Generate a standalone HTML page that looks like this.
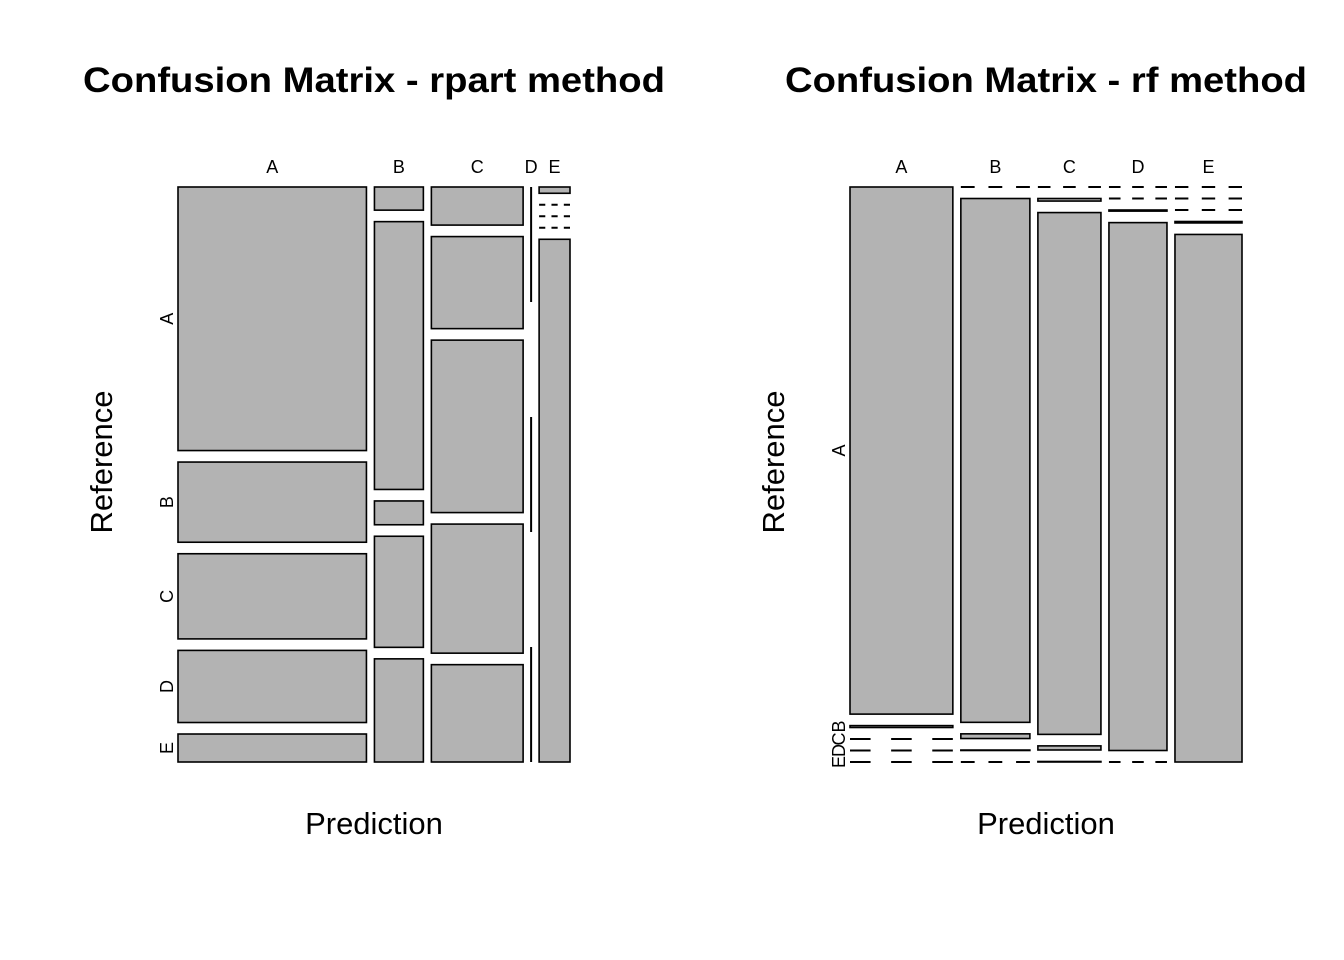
<!DOCTYPE html>
<html><head><meta charset="utf-8"><style>
html,body{margin:0;padding:0;background:#fff;}
svg{display:block;font-family:"Liberation Sans",Arial,sans-serif;}
</style></head><body>
<svg id="chart" width="1344" height="960" viewBox="0 0 1344 960" xmlns="http://www.w3.org/2000/svg">
<rect x="0" y="0" width="1344" height="960" fill="#fff"/>
<g id="p1"></g>
<g id="p2"></g>
</svg>
<script>
// Categories
const predLevels = ["A","B","C","D","E"];
const refLevels = ["A","B","C","D","E"];
// rpart counts per Prediction column (Reference A..E)
const rpartPredA = [1535, 467, 496, 420, 163];
const rpartPredB = [35, 405, 36, 168, 156];
const rpartPredC = [108, 261, 489, 366, 276];
const rpartPredD = [0, 0, 0, 0, 0];
const rpartPredE = [6, 0, 0, 0, 499];
// rf counts per Prediction column (Reference A..E)
const rfPredA = [1674, 6, 0, 0, 0];
const rfPredB = [0, 1117, 10, 1, 0];
const rfPredC = [0, 5, 1016, 8, 1];
const rfPredD = [0, 0, 2, 946, 0];
const rfPredE = [0, 0, 0, 3, 1092];
const titles = ["Confusion Matrix - rpart method", "Confusion Matrix - rf method"];

const NS = "http://www.w3.org/2000/svg";
function mk(parent, tag, attrs, text) {
  const e = document.createElementNS(NS, tag);
  for (const k in attrs) e.setAttribute(k, attrs[k]);
  if (text !== undefined) e.textContent = text;
  parent.appendChild(e);
  return e;
}

function drawMosaic(g, cols, x0, x1, y0, y1, cx, title, titleLen, refLabelX) {
  const gap = 8, rgap = 11.5;
  const availW = (x1 - x0) - gap * (cols.length - 1);
  const availH = (y1 - y0) - rgap * (refLevels.length - 1);
  const colTot = cols.map(c => c.reduce((a, b) => a + b, 0));
  const N = colTot.reduce((a, b) => a + b, 0);
  const t = mk(g, "text", {x: cx, y: 92, "text-anchor": "middle", "font-size": 35, "font-weight": "bold", textLength: titleLen, lengthAdjust: "spacingAndGlyphs"}, title);
  
  
  const xt = mk(g, "text", {x: cx, y: 834, "text-anchor": "middle", "font-size": 31}, "Prediction");
  
  
  const yt = mk(g, "text", {x: 0, y: 0, "text-anchor": "middle", "font-size": 31, transform: `translate(${refLabelX},${462}) rotate(-90)`}, "Reference");
  
  
  let x = x0;
  cols.forEach((col, ci) => {
    const w = availW * colTot[ci] / N;
    const cg = mk(g, "g", {});
    
    
    const lab = mk(cg, "text", {x: x + w / 2, y: 173, "text-anchor": "middle", "font-size": 18}, predLevels[ci]);
    
    
    if (colTot[ci] === 0) {
      const seg = (y1 - y0) / refLevels.length;
      refLevels.forEach((r, ri) => {
        if (ri % 2 === 0) {
          const l = mk(cg, "line", {x1: x, x2: x, y1: y0 + ri * seg, y2: y0 + (ri + 1) * seg, stroke: "#000", "stroke-width": 2});
          
          
        }
      });
    } else {
      let y = y0;
      const d = w / 5;
      col.forEach((v, ri) => {
        const h = availH * v / colTot[ci];
        if (v === 0) {
          const l = mk(cg, "line", {x1: x, x2: x + w, y1: y, y2: y, stroke: "#000", "stroke-width": 2, "stroke-dasharray": d + "," + d});
          
          
        } else {
          const r = mk(cg, "rect", {x: x, y: y, width: w, height: Math.max(h, 0.01), fill: "#b3b3b3", stroke: "#000", "stroke-width": 1.6});
          
          
        }
        if (ci === 0) {
          const ty = y + h / 2;
          const rl = mk(g, "text", {x: 0, y: 0, "text-anchor": "middle", "font-size": 18, transform: `translate(${x0 - 5},${ty}) rotate(-90)`}, refLevels[ri]);
          
          
        }
        y += h + rgap;
      });
    }
    x += w + gap;
  });
}
drawMosaic(document.getElementById("p1"), [rpartPredA, rpartPredB, rpartPredC, rpartPredD, rpartPredE], 178, 570, 187, 762, 374, titles[0], 582, 112);
drawMosaic(document.getElementById("p2"), [rfPredA, rfPredB, rfPredC, rfPredD, rfPredE], 850, 1242, 187, 762, 1046, titles[1], 522, 784);
</script>
</body></html>
